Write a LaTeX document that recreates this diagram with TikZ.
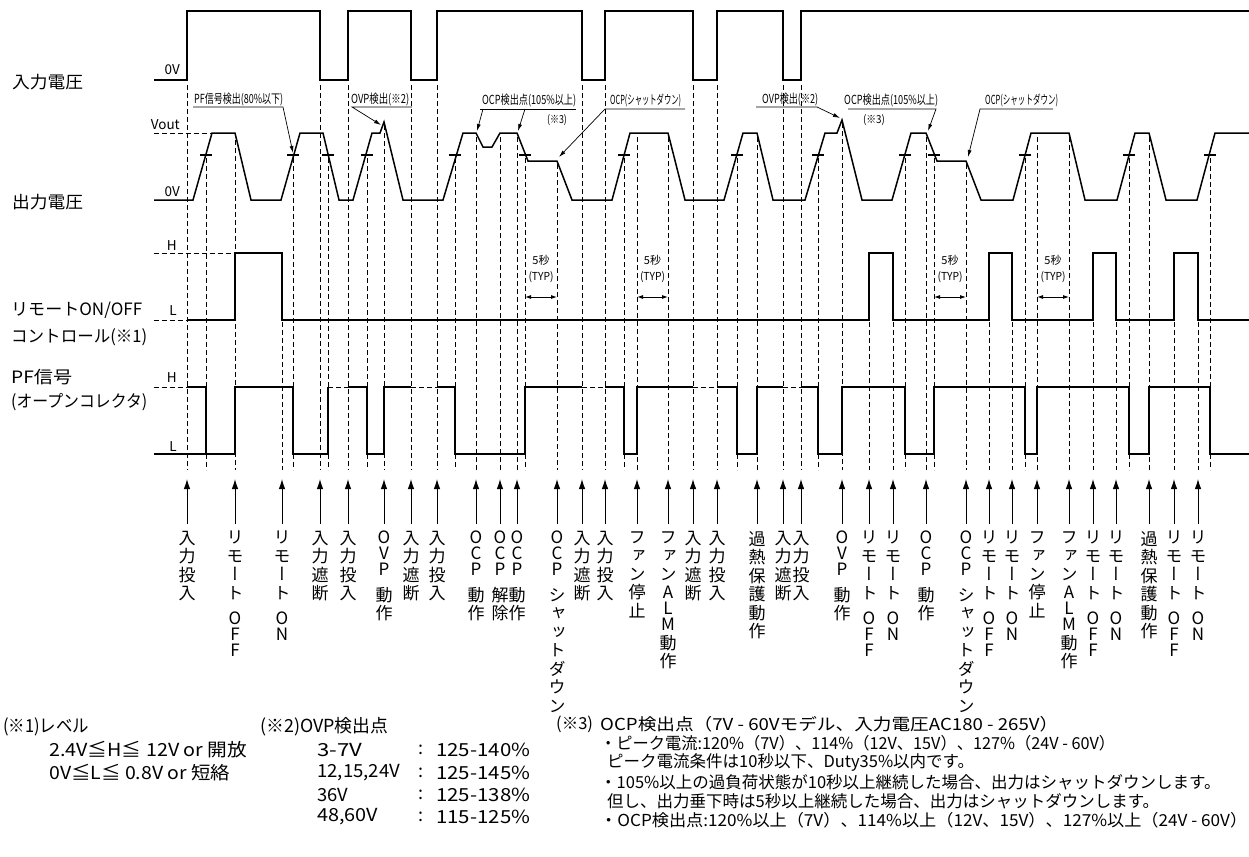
\documentclass[tikz,border=0pt]{standalone}
\usepackage{fontspec}
\usepackage{graphicx}
\setmainfont{Noto Sans CJK JP}
\newfontfamily\vfont[RawFeature=+vert]{Noto Sans CJK JP}
\usetikzlibrary{arrows.meta}
\newcommand\fw[2]{\resizebox{#1}{\height}{#2}}
\newcommand\tNyu{入\\力\\投\\入}
\newcommand\tSha{入\\力\\遮\\断}
\newcommand\tROFF{リ\\モ\\ー\\ト\\[7pt]O\\[-2.5pt]F\\[-2.5pt]F}
\newcommand\tRON{リ\\モ\\ー\\ト\\[7pt]O\\[-2.5pt]N}
\newcommand\tOVP{O\\[-2.5pt]V\\[-2.5pt]P\\[7pt]動\\作}
\newcommand\tOCP{O\\[-2.5pt]C\\[-2.5pt]P\\[7pt]動\\作}
\newcommand\tOCPk{O\\[-2.5pt]C\\[-2.5pt]P\\[7pt]解\\除}
\newcommand\tOCPsd{O\\[-2.5pt]C\\[-2.5pt]P\\[7pt]シ\\ャ\\ッ\\ト\\ダ\\ウ\\ン}
\newcommand\tFan{フ\\ァ\\ン\\停\\止}
\newcommand\tALM{フ\\ァ\\ン\\A\\[-2.5pt]L\\[-2.5pt]M\\動\\作}
\newcommand\tHeat{過\\熱\\保\\護\\動\\作}
\newcommand\ev[3]{%
  \node[evlab] (#1) at (#2,531) {#3};
  \coordinate (#1t) at (#2,479);
  \draw[evarr] ([yshift=7pt]#1.north) -- (#1t);}
\begin{document}
\begin{tikzpicture}[x=1pt,y=-1pt,
  wave/.style={line width=1.5pt,line join=miter},
  thinwave/.style={line width=1.1pt},
  guide/.style={dash pattern=on 5pt off 3pt,line width=0.75pt},
  tickm/.style={line width=1.1pt},
  lead/.style={line width=0.7pt,-{Latex[length=7pt,width=4pt]}},
  ul/.style={line width=0.7pt},
  evarr/.style={line width=1pt,-{Latex[length=10pt,width=6.5pt]}},
  evlab/.style={anchor=north,inner sep=0pt,align=center,font=\vfont\fontsize{17}{18.5}\selectfont},
  dimarr/.style={line width=0.9pt,{Latex[length=6pt,width=4pt]}-{Latex[length=6pt,width=4pt]}},
  lbl/.style={inner sep=0pt,anchor=west},
  big/.style={lbl,font=\fontsize{17}{20}\selectfont},
  lev/.style={inner sep=0pt,anchor=east,font=\fontsize{13.5}{15}\selectfont},
  ann/.style={inner sep=0pt,anchor=base west,font=\fontsize{12.5}{14}\selectfont},
  sml/.style={inner sep=0pt,font=\fontsize{11}{12}\selectfont},
  fn/.style={lbl,font=\fontsize{18}{20}\selectfont},
  fnr/.style={lbl,font=\fontsize{16.5}{19}\selectfont}
]
\useasboundingbox (0,0) rectangle (1249,856);
\fill[white] (0,0) rectangle (1249,856);

% ---------- left labels ----------
\node[big] (nIn) at (12,82) {\fw{71pt}{入力電圧}};
\node[big] (nOut) at (12,202) {\fw{71pt}{出力電圧}};
\node[big] (nRem1) at (11,310) {\fw{131pt}{リモートON/OFF}};
\node[big] (nRem2) at (11,337) {\fw{136pt}{コントロール(※1)}};
\node[big] (nPF1) at (11,377) {\fw{61pt}{PF信号}};
\node[big] (nPF2) at (11,402) {\fw{136pt}{(オープンコレクタ)}};

\node[lev] (l0Vi) at (180,70) {0V};
\node[lev] (lVout) at (180,125) {Vout};
\node[lev] (l0Vo) at (180,192) {0V};
\node[lev] (lRH) at (177,246) {H};
\node[lev] (lRL) at (177,311) {L};
\node[lev] (lPH) at (177,378) {H};
\node[lev] (lPL) at (177,447) {L};

% ---------- vertical guide lines ----------
\foreach \x/\y in {187/85,206/158,235/140,282/322,293/158,320/85,328/158,348/85,367/158,384/125,
  411/85,437/85,455/158,476/137,500/137,517/137,525/158,557/164,582/85,605/85,624/158,637/137,
  668/137,693/85,717/85,737/158,757/137,783/85,801/85,818/158,842/123,869/322,893/322,905/158,
  926/137,934/158,966/164,989/322,1012/322,1025/158,1037/137,1069/137,1093/322,1116/322,
  1129/158,1149/137,1174/322,1198/322,1210/158}
  \draw[guide] (\x,\y) -- (\x,470);

% reference level dashes
\draw[guide] (154,133) -- (212,133);
\draw[guide] (154,253) -- (235,253);
\draw[guide] (154,320) -- (187,320);
\draw[guide] (154,387) -- (187,387);

% ---------- input voltage ----------
\draw[wave] (154,80) -- (187,80) -- (187,11) -- (320,11) -- (320,80) -- (348,80) -- (348,11)
  -- (411,11) -- (411,80) -- (437,80) -- (437,11) -- (582,11) -- (582,80) -- (605,80) -- (605,11)
  -- (693,11) -- (693,80) -- (717,80) -- (717,11) -- (783,11) -- (783,80) -- (801,80) -- (801,11)
  -- (1249,11);

% ---------- output voltage ----------
\draw[wave] (154,200) -- (193,200) -- (212,133) -- (235,133) -- (251,200) -- (281,200)
  -- (300,133) -- (323,133) -- (339,200) -- (353,200) -- (372,133) -- (380,133) -- (384,122)
  -- (403,200) -- (443,200) -- (463,133) -- (476,133) -- (483,147) -- (492,147) -- (500,133)
  -- (517,133) -- (528,161) -- (557,161) -- (572,200) -- (612,200) -- (630,133) -- (668,133)
  -- (685,200) -- (724,200) -- (743,133) -- (757,133) -- (773,200) -- (805,200) -- (825,133)
  -- (837,133) -- (842,120) -- (862,200) -- (892,200) -- (911,133) -- (926,133) -- (937,161)
  -- (966,161) -- (981,200) -- (1013,200) -- (1031,133) -- (1069,133) -- (1085,200)
  -- (1117,200) -- (1135,133) -- (1149,133) -- (1166,200) -- (1197,200) -- (1215,133)
  -- (1249,133);
\foreach \x in {206,293,328,367,455,525,624,737,818,905,934,1025,1129,1210}
  \draw[tickm] (\x-6,155) -- (\x+6,155);

% ---------- remote ----------
\draw[wave] (187,320) -- (235,320) -- (235,253) -- (282,253) -- (282,320) -- (869,320)
  -- (869,253) -- (893,253) -- (893,320) -- (989,320) -- (989,253) -- (1012,253) -- (1012,320)
  -- (1093,320) -- (1093,253) -- (1116,253) -- (1116,320) -- (1174,320) -- (1174,253)
  -- (1198,253) -- (1198,320) -- (1249,320);

% 5 s (TYP)
\foreach \a/\b/\n in {525/557/1,637/668/2,934/966/3,1037/1069/4}{
  \node[sml] (sa\n) at ({(\a+\b)/2},260) {5秒};
  \node[sml] (sb\n) at ({(\a+\b)/2},277) {\fw{25pt}{(TYP)}};
  \coordinate (da\n) at (\a,297);
  \coordinate (db\n) at (\b,297);
  \draw[dimarr] (da\n) -- (db\n);
}

% ---------- PF signal ----------
\draw[thinwave] (154,454) -- (206,454);
\draw[wave] (187,387) -- (206,387) -- (206,454) -- (235,454) -- (235,387) -- (293,387)
  -- (293,454) -- (328,454) -- (328,387);
\draw[guide] (328,387) -- (348,387);
\draw[wave] (348,387) -- (367,387) -- (367,454) -- (384,454) -- (384,387) -- (411,387);
\draw[guide] (411,387) -- (437,387);
\draw[wave] (437,387) -- (455,387) -- (455,454) -- (525,454) -- (525,387) -- (582,387);
\draw[guide] (582,387) -- (605,387);
\draw[wave] (605,387) -- (624,387) -- (624,454) -- (637,454) -- (637,387) -- (693,387);
\draw[guide] (693,387) -- (717,387);
\draw[wave] (717,387) -- (737,387) -- (737,454) -- (757,454) -- (757,387) -- (783,387);
\draw[guide] (783,387) -- (801,387);
\draw[wave] (801,387) -- (818,387) -- (818,454) -- (842,454) -- (842,387) -- (905,387)
  -- (905,454) -- (934,454) -- (934,387) -- (1025,387) -- (1025,454) -- (1037,454)
  -- (1037,387) -- (1129,387) -- (1129,454) -- (1149,454) -- (1149,387) -- (1210,387)
  -- (1210,454) -- (1249,454);

% ---------- annotations ----------
\node[ann] (an1) at (194,104) {\fw{89pt}{PF信号検出(80\%以下)}};
\draw[lead] (193,107) -- (283,107) -- (293,153);
\node[ann] (an2) at (351,104) {\fw{58pt}{OVP検出(※2)}};
\draw[lead] (412,107) -- (352,107) -- (381,125);
\node[ann] (an3) at (482,105) {\fw{94pt}{OCP検出点(105\%以上)}};
\node[sml] (an3b) at (557,120) {\fw{20pt}{(※3)}};
\draw[ul] (480,109) -- (576,109);
\draw[lead] (483,109) -- (477,131);
\draw[lead] (525,109) -- (518,131);
\node[ann] (an4) at (610,105) {\fw{71pt}{OCP(シャットダウン)}};
\draw[lead] (685,109) -- (605,109) -- (559,157);
\node[ann] (an5) at (762,104) {\fw{56pt}{OVP検出(※2)}};
\draw[lead] (756,107) -- (817,107) -- (840,118);
\node[ann] (an6) at (844,105) {\fw{94pt}{OCP検出点(105\%以上)}};
\node[sml] (an6b) at (874,120) {\fw{22pt}{(※3)}};
\draw[lead] (848,109) -- (936,109) -- (928,131);
\node[ann] (an7) at (985,105) {\fw{73pt}{OCP(シャットダウン)}};
\draw[lead] (1053,109) -- (980,109) -- (968,157);

% ---------- event arrows & labels ----------
\ev{e1}{187}{\tNyu}
\ev{e2}{235}{\tROFF}
\ev{e3}{282}{\tRON}
\ev{e4}{320}{\tSha}
\ev{e5}{348}{\tNyu}
\ev{e6}{384}{\tOVP}
\ev{e7}{411}{\tSha}
\ev{e8}{437}{\tNyu}
\ev{e9}{476}{\tOCP}
\ev{e10}{500}{\tOCPk}
\ev{e11}{517}{\tOCP}
\ev{e12}{557}{\tOCPsd}
\ev{e13}{582}{\tSha}
\ev{e14}{605}{\tNyu}
\ev{e15}{637}{\tFan}
\ev{e16}{668}{\tALM}
\ev{e17}{693}{\tSha}
\ev{e18}{717}{\tNyu}
\ev{e19}{757}{\tHeat}
\ev{e20}{783}{\tSha}
\ev{e21}{801}{\tNyu}
\ev{e22}{842}{\tOVP}
\ev{e23}{869}{\tROFF}
\ev{e24}{893}{\tRON}
\ev{e25}{926}{\tOCP}
\ev{e26}{966}{\tOCPsd}
\ev{e27}{989}{\tROFF}
\ev{e28}{1012}{\tRON}
\ev{e29}{1037}{\tFan}
\ev{e30}{1069}{\tALM}
\ev{e31}{1093}{\tROFF}
\ev{e32}{1116}{\tRON}
\ev{e33}{1149}{\tHeat}
\ev{e34}{1174}{\tROFF}
\ev{e35}{1198}{\tRON}

% ---------- footnotes ----------
\node[fn] (f1a) at (3,727) {\fw{86pt}{(※1)レベル}};
\node[fn] (f1b) at (49,750) {\fw{198pt}{2.4V≦H≦ 12V or 開放}};
\node[fn] (f1c) at (49,773) {\fw{181pt}{0V≦L≦ 0.8V or 短絡}};
\node[fn] (f2a) at (260,727) {\fw{128pt}{(※2)OVP検出点}};
\node[fn] (f2b) at (317,750) {\fw{45pt}{3-7V}};
\node[fn] (f2c) at (317,773) {\fw{83pt}{12,15,24V}};
\node[fn] (f2d) at (317,795) {\fw{31pt}{36V}};
\node[fn] (f2e) at (317,817) {\fw{61pt}{48,60V}};
\foreach \y/\v [count=\i] in {750/125-140,773/125-145,795/125-138,817/115-125}{
  \node[fn,anchor=center] (fc\i) at (421,\y) {:};
  \node[fn] (fv\i) at (436,\y) {\fw{94pt}{\v\%}};
}
\node[fnr] (f3a) at (556,724) {(※3)};
\node[fnr] (f3b) at (600,724) {\fw{458pt}{OCP検出点（7V - 60Vモデル、入力電圧AC180 - 265V）}};
\node[fnr] (f3c) at (600,743) {\fw{515pt}{・ピーク電流:120\%（7V）、114\%（12V、15V）、127\%（24V - 60V）}};
\node[fnr] (f3d) at (607,762) {ピーク電流条件は10秒以下、Duty35\%以内です。};
\node[fnr] (f3e) at (600,782) {・105\%以上の過負荷状態が10秒以上継続した場合、出力はシャットダウンします。};
\node[fnr] (f3f) at (607,801) {但し、出力垂下時は5秒以上継続した場合、出力はシャットダウンします。};
\node[fnr] (f3g) at (600,820) {\fw{647pt}{・OCP検出点:120\%以上（7V）、114\%以上（12V、15V）、127\%以上（24V - 60V）}};
\end{tikzpicture}
\end{document}
